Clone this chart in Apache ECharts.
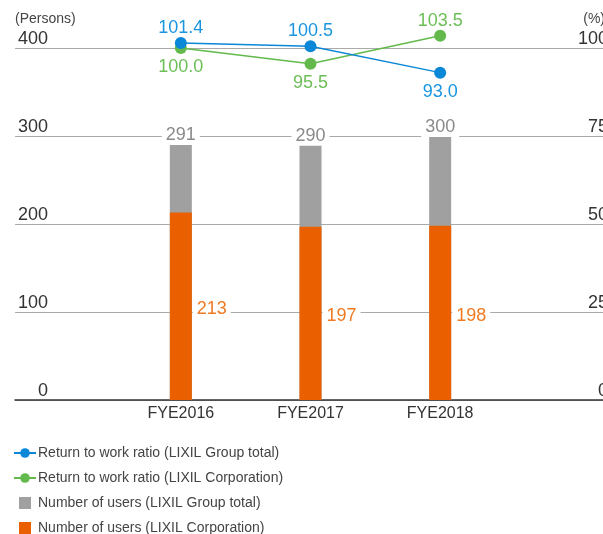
<!DOCTYPE html>
<html>
<head>
<meta charset="utf-8">
<script src="https://cdn.jsdelivr.net/npm/echarts@6/dist/echarts.min.js"></script>
<style>
  html, body { margin: 0; padding: 0; background: #fff; overflow: hidden; }
  #main { width: 603px; height: 534px; }
</style>
</head>
<body>
<div id="main"></div>
<script>
// data
const years = ['FYE2016', 'FYE2017', 'FYE2018'];
const usersGroup = [291, 290, 300];   // gray bars (total height)
const usersCorp = [213, 197, 198];    // orange bars
const ratioGroup = [101.4, 100.5, 93.0];
const ratioCorp = [100.0, 95.5, 103.5];

const names = [
  'Return to work ratio (LIXIL Group total)',
  'Return to work ratio (LIXIL Corporation)',
  'Number of users (LIXIL Group total)',
  'Number of users (LIXIL Corporation)'
];

const FONT = '"Liberation Sans", Arial, sans-serif';
const BLUE = '#0b87d8', GREEN = '#63b94b', GRAY = '#9fa09f', ORANGE = '#ea6000';

// label above the higher of the two ratios, below the lower one
function ratioData(vals, other) {
  return vals.map((v, i) => {
    const up = v >= other[i];
    return { value: v, label: { position: up ? 'top' : 'bottom', distance: up ? 0 : 4 } };
  });
}

const chart = echarts.init(document.getElementById('main'));

const option = {
  animation: false,
  textStyle: { fontFamily: FONT },
  grid: [
    // full width grid only for gridlines / axis labels
    { left: 15, right: 0, top: 48, bottom: 134, outerBoundsMode: 'none' },
    // grid holding the marks
    { left: 116, width: 389, top: 48, bottom: 134, outerBoundsMode: 'none' }
  ],
  legend: {
    orient: 'vertical',
    left: 13,
    top: 446,
    height: 120,
    padding: 0,
    itemWidth: 22,
    itemHeight: 12,
    itemGap: 11,
    textStyle: { color: '#444', fontSize: 14, fontFamily: FONT, padding: [0, 0, 0, -3] },
    data: [
      { name: names[0] },
      { name: names[1] },
      { name: names[2], icon: 'path://M0 0H10V10H0Z' },
      { name: names[3], icon: 'path://M0 0H10V10H0Z' }
    ]
  },
  xAxis: [
    {
      gridIndex: 0, type: 'category', data: [''],
      axisLine: { show: true, lineStyle: { color: '#333', width: 1.5 } },
      axisTick: { show: false }, axisLabel: { show: false }
    },
    {
      gridIndex: 1, type: 'category', data: years,
      axisLine: { show: false }, axisTick: { show: false },
      axisLabel: { color: '#333', fontSize: 16, margin: 6, fontFamily: FONT }
    }
  ],
  yAxis: [
    {
      gridIndex: 0, type: 'value', min: 0, max: 400, interval: 100,
      name: '(Persons)', nameLocation: 'end', nameGap: 22,
      nameTextStyle: { color: '#444', fontSize: 14, align: 'left', fontFamily: FONT },
      axisLine: { show: false }, axisTick: { show: false },
      splitLine: { lineStyle: { color: '#aaa', width: 1 } },
      axisLabel: {
        inside: true, align: 'right', verticalAlign: 'bottom', margin: 33,
        color: '#333', fontSize: 18, fontFamily: FONT
      }
    },
    {
      gridIndex: 0, type: 'value', min: 0, max: 100, interval: 25, position: 'right',
      name: '(%)', nameLocation: 'end', nameGap: 22,
      nameTextStyle: { color: '#444', fontSize: 14, align: 'right', fontFamily: FONT, padding: [0, -2, 0, 0] },
      axisLine: { show: false }, axisTick: { show: false },
      splitLine: { show: false },
      axisLabel: {
        inside: true, align: 'right', verticalAlign: 'bottom', margin: -5,
        color: '#333', fontSize: 18, fontFamily: FONT
      }
    },
    { gridIndex: 1, type: 'value', min: 0, max: 400, show: false },
    { gridIndex: 1, type: 'value', min: 0, max: 100, show: false }
  ],
  series: [
    {
      name: names[2], type: 'bar', xAxisIndex: 1, yAxisIndex: 2,
      data: usersGroup, barWidth: 22, itemStyle: { color: GRAY },
      label: {
        show: true, position: 'top', distance: -1, color: '#8a8a8a', fontSize: 18,
        backgroundColor: '#fff', padding: [1, 4], fontFamily: FONT
      }
    },
    {
      name: names[3], type: 'bar', xAxisIndex: 1, yAxisIndex: 2,
      data: usersCorp, barWidth: 22, barGap: '-100%', itemStyle: { color: ORANGE },
      label: {
        show: true, position: 'right', distance: 1, offset: [0, 3], color: '#f07a22', fontSize: 18,
        backgroundColor: '#fff', padding: [1, 4], fontFamily: FONT
      }
    },
    {
      name: names[1], type: 'line', xAxisIndex: 1, yAxisIndex: 3, z: 3,
      data: ratioData(ratioCorp, ratioGroup), clip: false,
      symbol: 'circle', symbolSize: 12,
      lineStyle: { color: GREEN, width: 1.5 }, itemStyle: { color: GREEN },
      label: {
        show: true, color: '#6cbf56', fontSize: 18, fontFamily: FONT,
        formatter: p => p.value.toFixed(1)
      }
    },
    {
      name: names[0], type: 'line', xAxisIndex: 1, yAxisIndex: 3, z: 4,
      data: ratioData(ratioGroup, ratioCorp), clip: false,
      symbol: 'circle', symbolSize: 12,
      lineStyle: { color: BLUE, width: 1.5 }, itemStyle: { color: BLUE },
      label: {
        show: true, color: '#1a95e0', fontSize: 18, fontFamily: FONT,
        formatter: p => p.value.toFixed(1)
      }
    }
  ]
};

chart.setOption(option);
</script>
</body>
</html>
